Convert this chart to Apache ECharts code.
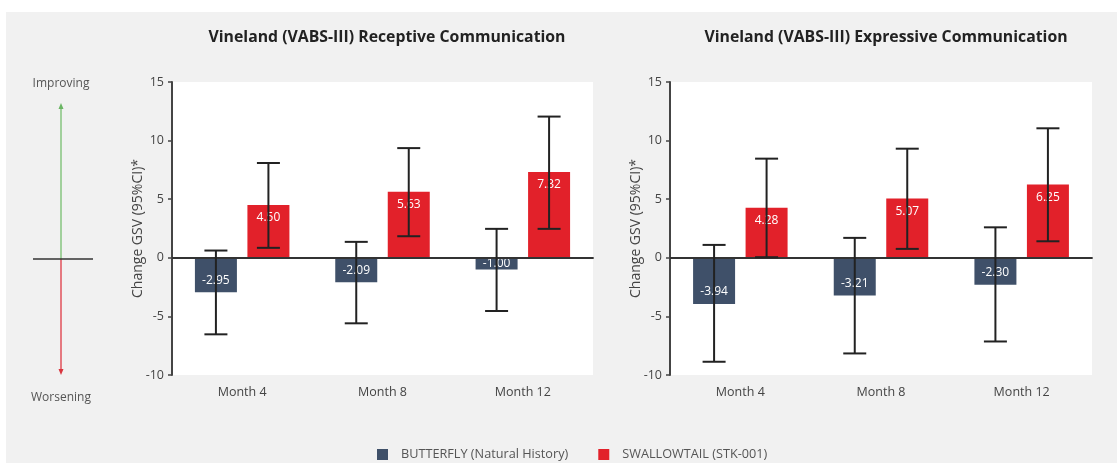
<!DOCTYPE html>
<html>
<head>
<meta charset="utf-8">
<script src="https://cdn.jsdelivr.net/npm/echarts@6/dist/echarts.min.js"></script>
<style>
html,body{margin:0;padding:0;background:#fff;}
#wrap{position:relative;width:1117px;height:463px;background:#fff;}
#bg{position:absolute;left:6px;top:12px;right:0;bottom:0;background:#f1f1f1;}
#chart{position:absolute;left:0;top:0;width:1117px;height:463px;}
</style>
</head>
<body>
<div id="wrap"><div id="bg"></div><div id="chart"></div></div>
<script>
const categories = ['Month 4', 'Month 8', 'Month 12'];
const yTicks = [-10, -5, 0, 5, 10, 15];
const seriesNames = ['BUTTERFLY (Natural History)', 'SWALLOWTAIL (STK-001)'];
const chartTitles = ['Vineland (VABS-III) Receptive Communication', 'Vineland (VABS-III) Expressive Communication'];
const yAxisName = 'Change GSV (95%CI)*';

// Receptive
const recBlue = [-2.95, -2.09, -1.00];
const recRed = [4.50, 5.63, 7.32];
const recBlueLow = [-6.53, -5.59, -4.54];
const recBlueHigh = [0.62, 1.36, 2.47];
const recRedLow = [0.85, 1.84, 2.47];
const recRedHigh = [8.09, 9.36, 12.05];
// Expressive
const expBlue = [-3.94, -3.21, -2.30];
const expRed = [4.28, 5.07, 6.25];
const expBlueLow = [-8.87, -8.16, -7.14];
const expBlueHigh = [1.10, 1.70, 2.60];
const expRedLow = [0.05, 0.76, 1.41];
const expRedHigh = [8.46, 9.31, 11.05];

const BLUE = '#3f5069';
const RED = '#e2212a';
const BAR_W = 42;
const BAR_GAP = 10.5;
const FONT = '"Open Sans", "Noto Sans", sans-serif';

function errData(low, high) {
  return categories.map((c, i) => [i, low[i], high[i]]);
}
function errSeries(name, gridIdx, low, high, side) {
  return {
    type: 'custom', name: name, xAxisIndex: gridIdx, yAxisIndex: gridIdx, z: 5,
    data: errData(low, high),
    encode: { x: 0, y: [1, 2] },
    silent: true,
    renderItem: function (params, api) {
      const x = api.value(0);
      const lo = api.coord([x, api.value(1)]);
      const hi = api.coord([x, api.value(2)]);
      const cx = lo[0] + side * (BAR_W + BAR_GAP) / 2;
      const half = 11.5;
      const st = { stroke: '#222', lineWidth: 2 };
      return { type: 'group', children: [
        { type: 'line', shape: { x1: cx, y1: hi[1], x2: cx, y2: lo[1] }, style: st },
        { type: 'line', shape: { x1: cx - half, y1: hi[1], x2: cx + half, y2: hi[1] }, style: st },
        { type: 'line', shape: { x1: cx - half, y1: lo[1], x2: cx + half, y2: lo[1] }, style: st }
      ]};
    }
  };
}
function barSeries(name, gridIdx, values, color, pos, dist, withZero) {
  const s = {
    type: 'bar', name: name, xAxisIndex: gridIdx, yAxisIndex: gridIdx,
    // short bars get their label centred so it stays inside the bar
    data: values.map(v => Math.abs(v) < 1.5 ? { value: v, label: { position: 'inside' } } : v),
    barWidth: BAR_W, barGap: (BAR_GAP / BAR_W * 100) + '%',
    itemStyle: { color: color },
    label: { show: true, position: pos, distance: dist, color: '#fff', fontSize: 12, fontFamily: FONT,
      formatter: p => p.value.toFixed(2) },
    z: 3
  };
  if (withZero) {
    s.markLine = { silent: true, symbol: 'none', label: { show: false },
      lineStyle: { color: '#333', width: 2, type: 'solid' }, data: [{ yAxis: 0 }] };
  }
  return s;
}
function xAx(gridIdx) {
  return { type: 'category', gridIndex: gridIdx, data: categories,
    axisLine: { lineStyle: { color: '#444', width: 2 } },
    axisTick: { alignWithLabel: true, length: 4, lineStyle: { color: '#444', width: 2 } },
    axisLabel: { color: '#444', fontSize: 12.5, fontFamily: FONT, margin: 11 } };
}
function yAx(gridIdx) {
  return { type: 'value', gridIndex: gridIdx, min: yTicks[0], max: yTicks[yTicks.length - 1], interval: 5,
    name: yAxisName, nameLocation: 'middle', nameRotate: 90, nameGap: 27, nameMoveOverlap: false,
    nameTextStyle: { color: '#444', fontSize: 14, fontFamily: FONT },
    axisLine: { show: true, lineStyle: { color: '#444', width: 2 } },
    axisTick: { show: true, length: 4, lineStyle: { color: '#444', width: 1.5 } },
    splitLine: { show: false },
    axisLabel: { color: '#444', fontSize: 12.5, fontFamily: FONT, margin: 8 } };
}

const chart = echarts.init(document.getElementById('chart'));
chart.setOption({
  animation: false,
  title: [
    { text: chartTitles[0], left: 382, top: 24, textAlign: 'center',
      textStyle: { fontSize: 15.8, fontWeight: 'bold', color: '#222', fontFamily: FONT } },
    { text: chartTitles[1], left: 881, top: 24, textAlign: 'center',
      textStyle: { fontSize: 15.8, fontWeight: 'bold', color: '#222', fontFamily: FONT } }
  ],
  legend: {
    data: seriesNames, top: 443, left: 372, itemWidth: 11, itemHeight: 11, itemGap: 30,
    icon: 'rect', textStyle: { color: '#555', fontSize: 12.7, fontFamily: FONT, padding: [0, 0, 0, 8] }
  },
  grid: [
    { left: 172, right: 524, top: 82, bottom: 88, show: true, backgroundColor: '#fff', borderWidth: 0 },
    { left: 670, right: 25, top: 82, bottom: 88, show: true, backgroundColor: '#fff', borderWidth: 0 }
  ],
  xAxis: [xAx(0), xAx(1)],
  yAxis: [yAx(0), yAx(1)],
  series: [
    barSeries(seriesNames[0], 0, recBlue, BLUE, 'insideBottom', 6, true),
    barSeries(seriesNames[1], 0, recRed, RED, 'insideTop', 7, false),
    errSeries(seriesNames[0], 0, recBlueLow, recBlueHigh, -1),
    errSeries(seriesNames[1], 0, recRedLow, recRedHigh, 1),
    barSeries(seriesNames[0], 1, expBlue, BLUE, 'insideBottom', 6, true),
    barSeries(seriesNames[1], 1, expRed, RED, 'insideTop', 7, false),
    errSeries(seriesNames[0], 1, expBlueLow, expBlueHigh, -1),
    errSeries(seriesNames[1], 1, expRedLow, expRedHigh, 1)
  ],
  graphic: [
    { type: 'text', x: 61, y: 84, style: { text: 'Improving', fill: '#555', fontSize: 12, fontFamily: FONT, align: 'center', verticalAlign: 'middle' } },
    { type: 'text', x: 61, y: 398, style: { text: 'Worsening', fill: '#555', fontSize: 12, fontFamily: FONT, align: 'center', verticalAlign: 'middle' } },
    { type: 'line', shape: { x1: 61, y1: 108, x2: 61, y2: 259 }, style: { stroke: '#86c47f', lineWidth: 1.5 } },
    { type: 'polygon', shape: { points: [[61, 103], [58.5, 109], [63.5, 109]] }, style: { fill: '#6ab563' } },
    { type: 'line', shape: { x1: 61, y1: 259, x2: 61, y2: 370 }, style: { stroke: '#e0505a', lineWidth: 1.5 } },
    { type: 'polygon', shape: { points: [[61, 375], [58.5, 369], [63.5, 369]] }, style: { fill: '#d9363f' } },
    { type: 'line', shape: { x1: 33, y1: 259, x2: 93, y2: 259 }, style: { stroke: '#333', lineWidth: 1.5 } }
  ]
});
</script>
</body>
</html>
